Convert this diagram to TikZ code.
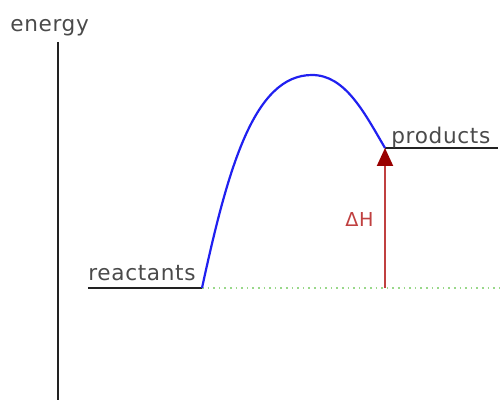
\documentclass[tikz,border=0pt]{standalone}
\usepackage{fontspec}
\setmainfont{DejaVu Sans}[LetterSpace=3]
\usepackage{tikz}
\usetikzlibrary{arrows.meta,positioning}
\definecolor{txgrey}{HTML}{4A4A4A}
\definecolor{lvblack}{HTML}{222222}
\definecolor{curveblue}{HTML}{2020F0}
\definecolor{basegreen}{HTML}{99D88A}
\definecolor{dhred}{HTML}{C04040}
\definecolor{dhdark}{HTML}{990000}

\begin{document}
\begin{tikzpicture}[x=0.5pt,y=-0.5pt,
  lbl/.style={text=txgrey,font=\fontsize{10.8}{12}\selectfont,inner sep=0pt},
  level/.style={draw=lvblack,line width=1pt},
  path/.style={draw=curveblue,line width=1.1pt},
  base/.style={draw=basegreen,line width=0.8pt,dotted},
  dh/.style={draw=dhred,line width=1pt,-{Triangle[length=9pt,width=8pt,color=dhdark]}}]
  \useasboundingbox (0,0) rectangle (500,400);
  % axis
  \coordinate (ax0) at (58,42);
  \coordinate (ax1) at (58,400);
  \draw[level] (ax0) -- (ax1);
  \node[lbl,anchor=base west] (en) at (10,32) {energy};
  % energy levels
  \coordinate (r0) at (88,288);
  \coordinate (r1) at (202,288);
  \coordinate (top) at (312,75);
  \coordinate (p0) at (385,148);
  \coordinate (p1) at (498,148);
  \coordinate (bs) at (385,288);
  \coordinate (g1) at (500,288);
  \draw[base] (r1) -- (g1);
  \draw[level] (r0) -- (r1);
  \draw[level] (p0) -- (p1);
  \node[lbl,anchor=base west] (re) at (88,281) {reactants};
  \node[lbl,anchor=base west] (pr) at (391,144) {products};
  % reaction path
  \draw[path] (r1) .. controls (228,168) and (254,75) .. (top)
    .. controls (345,75) and (364,112) .. (p0);
  % enthalpy change
  \draw[dh] (bs) -- (p0);
  \node[lbl,text=dhred,anchor=base east,font=\fontsize{9.6}{11}\selectfont] (dhl) at (374,227) {ΔH};
\end{tikzpicture}
\end{document}
